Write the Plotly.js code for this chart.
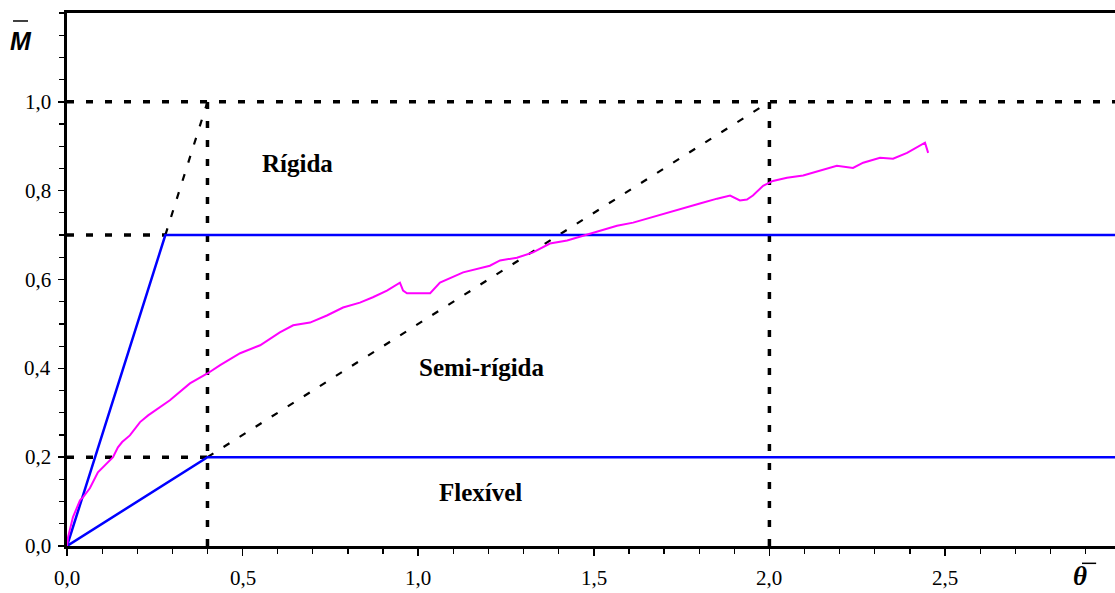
<!DOCTYPE html>
<html>
<head>
<meta charset="utf-8">
<script src="https://cdn.plot.ly/plotly-3.0.1.min.js"></script>
<style>html,body{margin:0;padding:0;background:#fff;}#chart{width:1115px;height:593px;}</style>
</head>
<body>
<div id="chart"></div>
<script>
// Experimental moment-rotation curve (normalised)
const expTheta = [0, 0.003, 0.017, 0.037, 0.046, 0.065, 0.088, 0.103, 0.131, 0.145, 0.157, 0.179, 0.208, 0.231, 0.265, 0.293,
  0.350, 0.401, 0.436, 0.493, 0.550, 0.606, 0.644, 0.692, 0.740, 0.786, 0.834, 0.871, 0.911, 0.948, 0.957, 0.968,
  1.034, 1.062, 1.128, 1.204, 1.233, 1.281, 1.327, 1.375, 1.424, 1.469, 1.518, 1.566, 1.612, 1.660, 1.708, 1.754,
  1.802, 1.851, 1.888, 1.916, 1.936, 1.953, 1.982, 2.010, 2.050, 2.096, 2.144, 2.192, 2.238, 2.267, 2.315, 2.352,
  2.392, 2.429, 2.443, 2.452];
const expM = [0, 0.020, 0.065, 0.103, 0.110, 0.130, 0.166, 0.178, 0.200, 0.222, 0.234, 0.249, 0.279, 0.294, 0.312, 0.328,
  0.366, 0.389, 0.407, 0.434, 0.452, 0.481, 0.497, 0.503, 0.519, 0.537, 0.548, 0.560, 0.575, 0.593, 0.575, 0.569,
  0.569, 0.593, 0.616, 0.631, 0.643, 0.649, 0.661, 0.681, 0.688, 0.699, 0.710, 0.721, 0.728, 0.739, 0.751, 0.760,
  0.771, 0.782, 0.789, 0.778, 0.780, 0.789, 0.811, 0.822, 0.829, 0.834, 0.845, 0.856, 0.851, 0.863, 0.874, 0.872,
  0.885, 0.901, 0.908, 0.885];

// Classification limits (blue)
const rigidTheta = [0, 0.28, 3.0];
const rigidM = [0, 0.7, 0.7];
const flexTheta = [0, 0.4, 3.0];
const flexM = [0, 0.2, 0.2];

// Dotted guide lines (segments separated by null)
const guideTheta = [0, 3.0, null, 0, 0.28, null, 0, 0.4, null, 0.4, 0.4, null, 2.0, 2.0];
const guideM = [1.0, 1.0, null, 0.7, 0.7, null, 0.2, 0.2, null, 0, 1.0, null, 0, 1.0];

// Thin dashed extension lines
const extTheta = [0.28, 0.4, null, 0.4, 2.0];
const extM = [0.7, 1.0, null, 0.2, 1.0];

// Tick values and labels
const xTicks = [0, 0.5, 1.0, 1.5, 2.0, 2.5];
const xTickText = ['0,0', '0,5', '1,0', '1,5', '2,0', '2,5'];
const yTicks = [0, 0.2, 0.4, 0.6, 0.8, 1.0];
const yTickText = ['0,0', '0,2', '0,4', '0,6', '0,8', '1,0'];

// Zone labels
const zoneLabels = ['Rígida', 'Semi-rígida', 'Flexível'];
const zoneTheta = [0.655, 1.179, 1.176];
const zoneM = [0.861, 0.402, 0.121];

const SERIF = 'Liberation Serif';

const traces = [
  {x: guideTheta, y: guideM, mode: 'lines', line: {color: '#000', width: 3.5, dash: '7px,12px'}, hoverinfo: 'skip', connectgaps: false},
  {x: extTheta, y: extM, mode: 'lines', line: {color: '#000', width: 2.2, dash: '7px,12px'}, hoverinfo: 'skip', connectgaps: false},
  {x: rigidTheta, y: rigidM, mode: 'lines', line: {color: '#0000FF', width: 2.5}},
  {x: flexTheta, y: flexM, mode: 'lines', line: {color: '#0000FF', width: 2.5}},
  {x: expTheta, y: expM, mode: 'lines', line: {color: '#FF00FF', width: 2}}
];

const annotations = zoneLabels.map((t, i) => ({
  x: zoneTheta[i], y: zoneM[i], xref: 'x', yref: 'y', text: '<b>' + t + '</b>', showarrow: false,
  xanchor: 'center', yanchor: 'middle',
  font: {family: SERIF, size: 25, color: '#000'}
}));
// Tick labels (serif, comma decimals)
xTicks.forEach((v, i) => annotations.push({
  x: v, y: -0.0600, xref: 'x', yref: 'paper', text: xTickText[i], showarrow: false,
  xanchor: 'center', yanchor: 'middle', font: {family: SERIF, size: 21, color: '#000'}
}));
yTicks.forEach((v, i) => annotations.push({
  x: -0.0135, y: v, xref: 'paper', yref: 'y', text: yTickText[i], showarrow: false,
  xanchor: 'right', yanchor: 'middle', font: {family: SERIF, size: 21, color: '#000'}
}));
// Axis titles
annotations.push({x: -0.0439, y: 0.947, xref: 'paper', yref: 'paper', text: '<b><i>M</i></b>', showarrow: false,
  xanchor: 'center', yanchor: 'middle',
  font: {family: 'Liberation Sans', size: 25, color: '#000'}});
annotations.push({x: 0.9666, y: -0.0563, xref: 'paper', yref: 'paper', text: '<b><i>θ</i></b>', showarrow: false,
  xanchor: 'center', yanchor: 'middle',
  font: {family: SERIF, size: 27, color: '#000'}});

const layout = {
  width: 1115, height: 593,
  margin: {l: 67, r: 0, t: 13, b: 47},
  paper_bgcolor: '#fff', plot_bgcolor: '#fff',
  showlegend: false,
  font: {family: SERIF, size: 21, color: '#000'},
  xaxis: {
    range: [0, 2.984], showgrid: false, zeroline: false,
    showline: true, linecolor: '#000', linewidth: 3, mirror: true,
    ticks: 'outside', tickcolor: '#000', ticklen: 7, tickwidth: 1.5,
    tickmode: 'array', tickvals: xTicks, showticklabels: false,
    minor: {dtick: 0.1, tick0: 0, ticks: 'outside', ticklen: 5, tickwidth: 1.2, tickcolor: '#000', showgrid: false}
  },
  yaxis: {
    range: [0, 1.2], showgrid: false, zeroline: false,
    showline: true, linecolor: '#000', linewidth: 3,
    ticks: 'outside', tickcolor: '#000', ticklen: 6, tickwidth: 1.5,
    tickmode: 'array', tickvals: yTicks, showticklabels: false,
    minor: {dtick: 0.05, tick0: 0, ticks: 'outside', ticklen: 5, tickwidth: 1.2, tickcolor: '#000', showgrid: false}
  },
  annotations: annotations,
  shapes: [
    {type: 'line', xref: 'paper', yref: 'paper', x0: -0.0515, x1: -0.0372, y0: 0.985, y1: 0.985, line: {color: '#000', width: 1.5}},
    {type: 'line', xref: 'paper', yref: 'paper', x0: 0.9685, x1: 0.982, y0: -0.0325, y1: -0.0325, line: {color: '#000', width: 1.5}}
  ]
};

Plotly.newPlot('chart', traces, layout, {displayModeBar: false, staticPlot: true});
</script>
</body>
</html>
